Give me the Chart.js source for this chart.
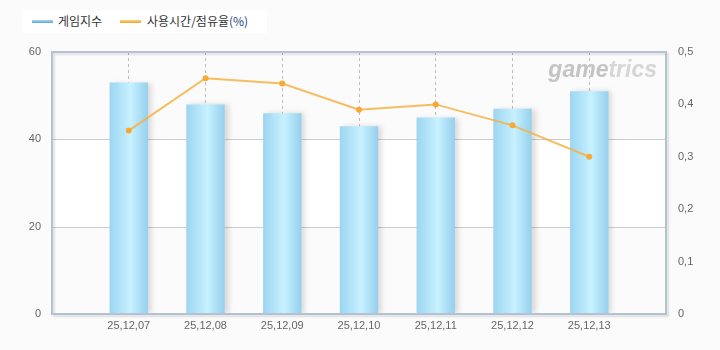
<!DOCTYPE html>
<html>
<head>
<meta charset="utf-8">
<script src="https://cdn.jsdelivr.net/npm/chart.js@4"></script>
<style>
  html, body { margin: 0; padding: 0; background: #fbfbfb; }
  #wrap { position: relative; width: 720px; height: 350px; }
  #legend {
    position: absolute; left: 22px; top: 10px; width: 245px; height: 23px;
    background: #fff; font-family: "Noto Sans CJK KR", sans-serif; font-size: 12px; color: #333;
  }
  #legend .sw { position: absolute; top: 10px; width: 21px; height: 3px; }
  #legend .tx { position: absolute; top: 3px; line-height: 16px; white-space: nowrap; }
</style>
</head>
<body>
<div id="wrap">
  <canvas id="chart" width="720" height="350"></canvas>
  <div id="legend">
    <div class="sw" style="left:10px;background:linear-gradient(#a9d8f2,#5ea6d6);"></div>
    <div class="tx" style="left:36px;">게임지수</div>
    <div class="sw" style="left:98px;background:linear-gradient(#ffd27a,#f2a431);"></div>
    <div class="tx" style="left:125px;">사용시간/점유율<span style="color:#23408e">(%)</span></div>
  </div>
</div>
<script>
// data
var dates = ["25.12.07", "25.12.08", "25.12.09", "25.12.10", "25.12.11", "25.12.12", "25.12.13"];
var gameIndex = [53, 48, 46, 43, 45, 47, 51];
var usageShare = [0.35, 0.45, 0.44, 0.39, 0.40, 0.36, 0.30];

// empty slot at each end so the days sit like in the original
var labels = [""].concat(dates.map(function (d) { return d.replace(/\./g, ","); }), [""]);
var barData = [null].concat(gameIndex, [null]);
var lineData = [null].concat(usageShare, [null]);

var tickFont = { family: "'Liberation Sans', Arial, sans-serif", size: 11 };

function barFill(c) {
  var chart = c.chart;
  var x = chart.scales.x;
  if (!x || c.type !== "data") return "#aadcf5";
  var cx = x.getPixelForValue(c.dataIndex);
  var half = (x.getPixelForValue(1) - x.getPixelForValue(0)) * 0.25;
  if (!isFinite(cx) || !isFinite(half) || half <= 0) return "#aadcf5";
  var g = chart.ctx.createLinearGradient(cx - half, 0, cx + half, 0);
  g.addColorStop(0, "#9cd5f2");
  g.addColorStop(0.55, "#c7f1ff");
  g.addColorStop(1, "#96cfee");
  return g;
}

// plot background bands, frame, shadows and watermark
var decor = {
  id: "decor",
  beforeDatasetsDraw: function (chart) {
    var ctx = chart.ctx, a = chart.chartArea, y = chart.scales.y;
    ctx.save();
    ctx.fillStyle = "#ffffff";
    var t = y.getPixelForValue(40), b = y.getPixelForValue(20);
    ctx.fillRect(a.left, t, a.right - a.left, b - t);
    ctx.strokeStyle = "#cccccc";
    ctx.lineWidth = 1;
    [20, 40].forEach(function (v) {
      var py = Math.round(y.getPixelForValue(v)) + 0.5;
      ctx.beginPath(); ctx.moveTo(a.left, py); ctx.lineTo(a.right, py); ctx.stroke();
    });
    ctx.font = "italic bold 23px 'Liberation Sans', Arial, sans-serif";
    ctx.textAlign = "right";
    ctx.textBaseline = "alphabetic";
    ctx.fillStyle = "#d6d6d6";
    ctx.fillText("trics", a.right - 9, a.top + 25);
    var w = ctx.measureText("trics").width;
    ctx.fillStyle = "#c4c4c4";
    ctx.fillText("game", a.right - 9 - w, a.top + 25);
    ctx.restore();
  },
  beforeDatasetDraw: function (chart, args) {
    if (args.meta.type === "bar") {
      var ctx = chart.ctx;
      ctx.save();
      ctx.shadowColor = "rgba(0,0,0,0.13)";
      ctx.shadowOffsetX = 4;
      ctx.shadowOffsetY = 0;
      ctx.shadowBlur = 5;
    }
  },
  afterDatasetDraw: function (chart, args) {
    if (args.meta.type === "bar") chart.ctx.restore();
  },
  afterDatasetsDraw: function (chart) {
    var ctx = chart.ctx, a = chart.chartArea;
    ctx.save();
    ctx.shadowColor = "rgba(0,0,0,0.12)";
    ctx.shadowOffsetX = 2;
    ctx.shadowOffsetY = 2;
    ctx.shadowBlur = 2;
    ctx.strokeStyle = "#b3c1d3";
    ctx.lineWidth = 2;
    ctx.strokeRect(a.left, a.top, a.right - a.left, a.bottom - a.top);
    ctx.restore();
  }
};

new Chart(document.getElementById("chart"), {
  type: "bar",
  data: {
    labels: labels,
    datasets: [
      {
        type: "line",
        label: "사용시간/점유율(%)",
        data: lineData,
        yAxisID: "y1",
        order: 0,
        borderColor: "rgba(246,178,66,0.85)",
        borderWidth: 2,
        pointRadius: 3,
        pointBackgroundColor: "#f6a935",
        pointBorderWidth: 0,
        tension: 0,
        spanGaps: false
      },
      {
        label: "게임지수",
        data: barData,
        yAxisID: "y",
        order: 1,
        backgroundColor: barFill,
        borderWidth: 0,
        barPercentage: 0.5,
        categoryPercentage: 1
      }
    ]
  },
  options: {
    responsive: false,
    animation: false,
    layout: { padding: { top: 52, left: 0, right: 0, bottom: 0 } },
    plugins: { legend: { display: false }, tooltip: { enabled: false } },
    scales: {
      x: {
        offset: false,
        afterFit: function (s) { s.height = 36; },
        grid: {
          offset: false,
          drawTicks: false,
          color: function (c) { return (c.index === 0 || c.index === labels.length - 1) ? "rgba(0,0,0,0)" : "#bdbdbd"; },
          lineWidth: 1
        },
        border: { display: false, dash: [3, 3] },
        ticks: { autoSkip: false, maxRotation: 0, padding: 5, color: "#666", font: tickFont }
      },
      y: {
        position: "left",
        min: 0, max: 60,
        afterFit: function (s) { s.width = 52; },
        grid: { display: false },
        border: { display: false },
        ticks: { stepSize: 20, padding: 3, color: "#666", font: tickFont }
      },
      y1: {
        position: "right",
        min: 0, max: 0.5,
        afterFit: function (s) { s.width = 54; },
        grid: { display: false },
        border: { display: false },
        ticks: {
          stepSize: 0.1, padding: 4, color: "#666", font: tickFont,
          callback: function (v) { return String(Math.round(v * 10) / 10).replace(".", ","); }
        }
      }
    }
  },
  plugins: [decor]
});
</script>
</body>
</html>
